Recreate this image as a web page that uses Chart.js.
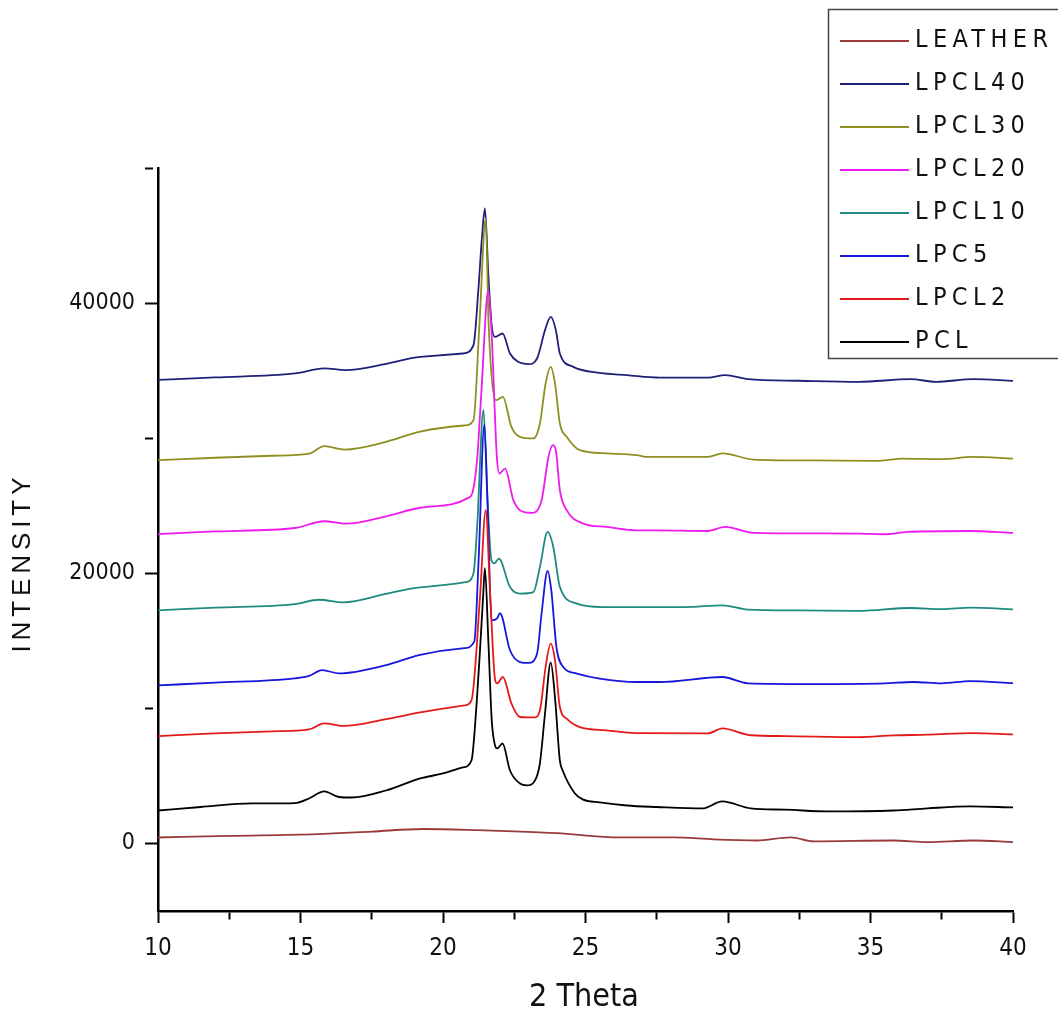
<!DOCTYPE html>
<html>
<head>
<meta charset="utf-8">
<script src="https://cdn.jsdelivr.net/npm/chart.js@4.4.1/dist/chart.umd.min.js"></script>
<style>
body { margin: 0; background: #fff; }
</style>
</head>
<body>
<canvas id="xrd" width="1058" height="1019"></canvas>
<script>
// [2 theta, intensity]
let leather = [[10,440],[12.5,560],[15.6,690],[17.5,880],[19.3,1070],[21.2,990],[22.5,900],[24,760],[26.2,450],[28.1,450],[29.5,300],[31,220],[32.2,450],[33,150],[35.8,220],[37,100],[38.6,220],[40,100]];
let lpcl40 = [[10,34320],[12,34500],[14.8,34790],[15.83,35170],[16.6,35040],[18,35500],[19.2,36020],[20.7,36270],[21.07,36890],[21.24,40960],[21.36,44660],[21.47,47010],[21.59,42200],[21.7,38490],[21.82,37500],[22.09,37750],[22.35,36270],[22.64,35650],[23.0,35480],[23.3,35900],[23.58,38000],[23.78,38980],[23.96,38000],[24.1,36270],[24.57,35280],[25.5,34830],[26.45,34670],[27.6,34490],[29.3,34490],[29.9,34670],[30.7,34370],[32.5,34250],[34.6,34170],[36.4,34370],[37.3,34170],[38.6,34370],[40,34240]];
let lpcl30 = [[10,28370],[12,28550],[14,28700],[15.3,28860],[15.83,29410],[16.55,29160],[18,29730],[19.2,30490],[20.75,30940],[21.07,31330],[21.28,38490],[21.5,46270],[21.6,38490],[21.86,32810],[22.1,33060],[22.4,30840],[22.7,30100],[23.17,29980],[23.4,31090],[23.6,34050],[23.78,35280],[23.93,34050],[24.1,31090],[24.34,30100],[24.8,29110],[25.74,28870],[26.8,28740],[27.2,28610],[29.3,28610],[29.8,28870],[30.9,28420],[33,28350],[35.3,28320],[36.1,28490],[37.5,28450],[38.6,28610],[40,28490]];
let lpcl20 = [[10,22900],[12,23100],[14.8,23350],[15.83,23850],[16.6,23670],[18,24220],[19.2,24850],[20.9,25600],[21.05,26100],[21.2,28500],[21.35,33550],[21.59,40960],[21.7,38000],[21.89,28610],[21.98,27380],[22.18,27750],[22.47,25400],[22.82,24540],[23.17,24470],[23.46,25400],[23.7,28610],[23.85,29480],[23.96,29110],[24.1,26150],[24.34,24670],[24.92,23680],[25.74,23430],[26.8,23180],[27.4,23180],[29.3,23130],[29.9,23430],[30.9,22990],[33,22950],[34.6,22940],[35.5,22890],[36.3,23060],[38.5,23130],[40,22990]];
let lpcl10 = [[10,17260],[12,17450],[14.8,17720],[15.65,18040],[16.5,17850],[18,18470],[19.2,18960],[20.8,19340],[21.07,19980],[21.2,23500],[21.42,32100],[21.55,26000],[21.7,20960],[21.8,20740],[21.96,21090],[22.35,18990],[22.7,18500],[23.17,18610],[23.4,20470],[23.67,23060],[23.87,21950],[24.1,18990],[24.7,17750],[25.6,17500],[26.45,17500],[28.5,17500],[29.8,17630],[30.7,17310],[32.5,17250],[34.6,17210],[36.4,17430],[37.5,17350],[38.5,17460],[40,17330]];
let lpc5 = [[10,11700],[12,11900],[14.8,12220],[15.3,12400],[15.76,12830],[16.35,12590],[18,13200],[19.2,13960],[20.75,14460],[21.1,14960],[21.25,21000],[21.45,31000],[21.58,24000],[21.7,16520],[21.9,16670],[22.0,17040],[22.35,14300],[22.7,13430],[23.0,13360],[23.3,14050],[23.46,17040],[23.67,20170],[23.8,18740],[23.98,14540],[24.22,13060],[24.7,12570],[25.5,12200],[26.8,11950],[27.6,11950],[29.8,12320],[30.7,11850],[33,11800],[35.5,11850],[36.5,11950],[37.5,11850],[38.5,12020],[40,11870]];
let lpcl2 = [[10,7950],[12,8150],[14,8300],[15.3,8440],[15.83,8890],[16.5,8700],[18,9200],[19.2,9700],[20.75,10220],[21.0,10600],[21.3,18300],[21.5,24670],[21.65,18700],[21.83,12070],[21.9,11850],[22.1,12320],[22.4,10370],[22.7,9360],[23.2,9330],[23.4,9850],[23.6,13060],[23.78,14790],[23.93,13560],[24.1,10100],[24.34,9240],[24.8,8610],[25.74,8370],[26.8,8170],[29.3,8150],[29.8,8520],[30.8,8010],[32,7950],[34.6,7870],[35.8,8000],[37,8050],[38.6,8170],[40,8070]];
let pcl = [[10,2440],[11.5,2700],[13.3,2960],[14.8,2990],[15.3,3330],[15.83,3850],[16.35,3440],[16.8,3400],[18,3920],[19.2,4810],[20,5180],[20.7,5630],[21.0,6150],[21.18,10370],[21.3,14370],[21.41,18370],[21.47,20370],[21.59,15040],[21.71,9110],[21.82,7300],[21.9,7040],[22.09,7400],[22.35,5400],[22.7,4440],[22.94,4300],[23.23,4670],[23.4,5930],[23.58,9630],[23.78,13400],[23.93,10800],[24.1,6150],[24.2,5400],[24.63,3700],[24.9,3260],[25.5,3040],[26.45,2810],[27.5,2700],[29.1,2590],[29.8,3110],[30.8,2590],[32,2500],[33.5,2370],[35.8,2440],[37,2600],[38.5,2740],[40,2670]];

let nombres = ['LEATHER', 'LPCL40', 'LPCL30', 'LPCL20', 'LPCL10', 'LPC5', 'LPCL2', 'PCL'];
let series = [leather, lpcl40, lpcl30, lpcl20, lpcl10, lpc5, lpcl2, pcl];
let colores = ['#9a3b3b', '#20207a', '#8f8f22', '#ee1bee', '#1f8a80', '#1616dc', '#e41a1a', '#000000'];
let orden = [0, 6, 5, 4, 3, 2, 1, 0];

let x_ticks = [10, 12.5, 15, 17.5, 20, 22.5, 25, 27.5, 30, 32.5, 35, 37.5, 40];
let x_labels = [10, 15, 20, 25, 30, 35, 40];
let y_ticks = [0, 10000, 20000, 30000, 40000, 50000];
let y_labels = [0, 20000, 40000];

const narrow = "'Liberation Sans Narrow', 'Arial Narrow', 'DejaVu Sans Condensed', sans-serif";

function spacingFor(ctx, font, text, target) {
    ctx.save();
    ctx.letterSpacing = '0px';
    ctx.font = font;
    let w = ctx.measureText(text).width;
    ctx.restore();
    return Math.max(0, (target - w) / (text.length - 1));
}

let tickSpacing = 0;

const textos = {
    id: 'textos',
    beforeLayout(chart) {
        tickSpacing = spacingFor(chart.ctx, '23px ' + narrow, '40000', 65);
        chart.ctx.letterSpacing = tickSpacing + 'px';
    },
    beforeDraw(chart) {
        chart.ctx.letterSpacing = tickSpacing + 'px';
    },
    afterDraw(chart) {
        const ctx = chart.ctx;
        ctx.save();

        // legend box, top right
        ctx.letterSpacing = '0px';
        ctx.strokeStyle = '#444';
        ctx.lineWidth = 1.5;
        ctx.strokeRect(828.5, 9.5, 260, 349);
        let ls = spacingFor(ctx, '25px ' + narrow, 'LEATHER', 133);
        ctx.font = '25px ' + narrow;
        ctx.letterSpacing = ls + 'px';
        ctx.textAlign = 'left';
        ctx.textBaseline = 'middle';
        chart.data.datasets.forEach(function (ds, i) {
            let y = 40 + i * 43;
            ctx.strokeStyle = ds.borderColor;
            ctx.lineWidth = 1.8;
            ctx.beginPath();
            ctx.moveTo(840, y + 1);
            ctx.lineTo(909, y + 1);
            ctx.stroke();
            ctx.fillStyle = '#111';
            ctx.fillText(ds.label, 915, y);
        });

        // axis titles
        ls = spacingFor(ctx, '32px ' + narrow, '2 Theta', 97);
        ctx.font = '32px ' + narrow;
        ctx.letterSpacing = ls + 'px';
        ctx.textAlign = 'left';
        ctx.textBaseline = 'middle';
        let w = ctx.measureText('2 Theta').width - ls;
        ctx.fillText('2 Theta', 584 - w / 2, 998);

        ls = spacingFor(ctx, "26px 'Liberation Sans', Arial, sans-serif", 'INTENSITY', 175);
        ctx.font = "26px 'Liberation Sans', Arial, sans-serif";
        ctx.letterSpacing = ls + 'px';
        w = ctx.measureText('INTENSITY').width - ls;
        ctx.translate(23, 565);
        ctx.rotate(-Math.PI / 2);
        ctx.fillText('INTENSITY', -w / 2, 0);

        ctx.restore();
        ctx.letterSpacing = '0px';
    }
};

let grafico = new Chart(document.getElementById('xrd'), {
    type: 'line',
    data: {
        datasets: series.map(function (s, i) {
            return {
                label: nombres[i],
                data: s.map(p => ({ x: p[0], y: p[1] })),
                borderColor: colores[i],
                borderWidth: 1.8,
                pointRadius: 0,
                cubicInterpolationMode: 'monotone',
                order: orden[i]
            };
        })
    },
    options: {
        responsive: false,
        animation: false,
        layout: { padding: { top: 168, right: 45, left: 0, bottom: 0 } },
        plugins: { legend: { display: false }, tooltip: { enabled: false } },
        scales: {
            x: {
                type: 'linear',
                min: 10,
                max: 40,
                afterFit: s => { s.height = 108; },
                afterBuildTicks: s => { s.ticks = x_ticks.map(v => ({ value: v })); },
                border: { display: true, color: '#000', width: 2.5 },
                grid: {
                    drawOnChartArea: false,
                    drawTicks: true,
                    tickLength: 12,
                    tickWidth: 2,
                    tickColor: '#000',
                    tickBorderDash: c => (c.tick && !x_labels.includes(c.tick.value)) ? [7, 40] : []
                },
                ticks: {
                    color: '#111',
                    padding: 11,
                    maxRotation: 0,
                    autoSkip: false,
                    font: { family: narrow, size: 24 },
                    callback: v => x_labels.includes(v) ? String(v) : ''
                }
            },
            y: {
                type: 'linear',
                min: -5000,
                max: 50000,
                afterFit: s => { s.width = 158; },
                afterBuildTicks: s => { s.ticks = y_ticks.map(v => ({ value: v })); },
                border: { display: true, color: '#000', width: 2.5 },
                grid: {
                    drawOnChartArea: false,
                    drawTicks: true,
                    tickLength: 13,
                    tickWidth: 2,
                    tickColor: '#000',
                    tickBorderDash: c => (c.tick && !y_labels.includes(c.tick.value)) ? [8, 40] : []
                },
                ticks: {
                    color: '#111',
                    padding: 10,
                    autoSkip: false,
                    font: { family: narrow, size: 23 },
                    callback: v => y_labels.includes(v) ? String(v) : ''
                }
            }
        }
    },
    plugins: [textos]
});
</script>
</body>
</html>
